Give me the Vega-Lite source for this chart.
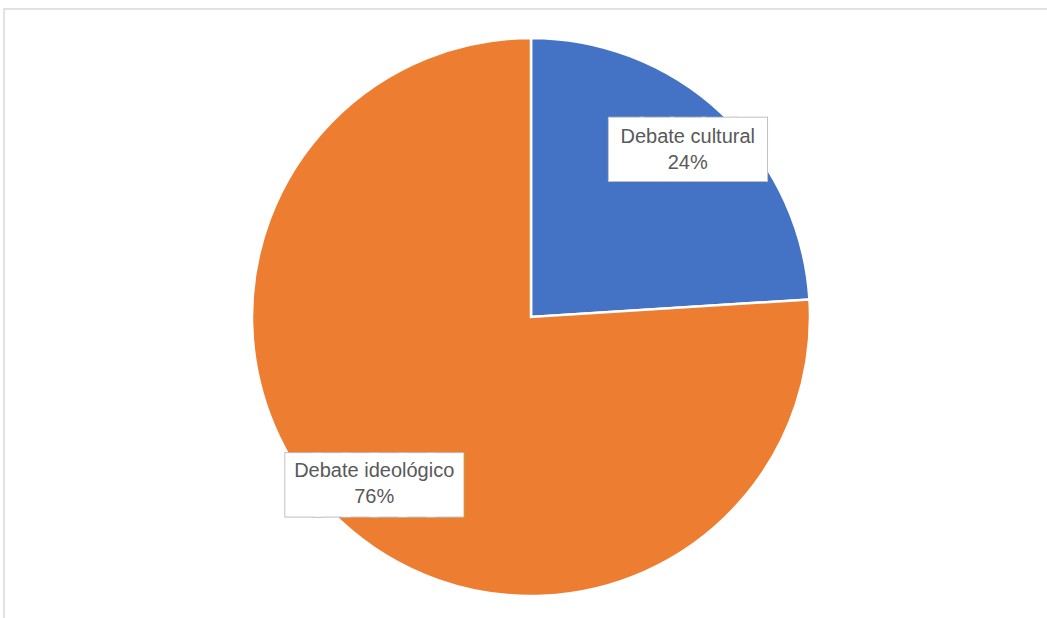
{
  "$schema": "https://vega.github.io/schema/vega-lite/v6.json",
  "width": 1054,
  "height": 616,
  "autosize": {"type": "none"},
  "padding": {"left": 4, "top": 9, "right": 0, "bottom": 0},
  "background": "white",
  "config": {"view": {"stroke": null}},
  "data": {
    "values": [
      {"categoria": "Debate cultural", "valor": 0.24},
      {"categoria": "Debate ideológico", "valor": 0.76}
    ]
  },
  "layer": [
    {
      "data": {"values": [{"marco": "borde"}]},
      "mark": {"type": "rect", "fill": "white", "fillOpacity": 0, "stroke": "#D9D9D9", "strokeWidth": 1.5},
      "encoding": {}
    },
    {
      "mark": {"type": "arc", "outerRadius": 279, "stroke": "white", "strokeWidth": 2.5},
      "encoding": {
        "theta": {"field": "valor", "type": "quantitative", "stack": true},
        "color": {
          "field": "categoria",
          "type": "nominal",
          "scale": {"domain": ["Debate cultural", "Debate ideológico"], "range": ["#4472C4", "#ED7D31"]},
          "legend": null
        }
      }
    },
    {
      "mark": {"type": "text", "radius": 229, "font": "DejaVu Sans Mono", "align": "center", "baseline": "alphabetic", "dy": 17, "fill": "#BFBFBF", "stroke": "#BFBFBF", "strokeJoin": "miter"},
      "encoding": {
        "theta": {"field": "valor", "type": "quantitative", "stack": true},
        "detail": {"field": "categoria", "type": "nominal"},
        "text": {"condition": {"test": "datum.categoria == 'Debate cultural'", "value": "█████"}, "value": "██████"},
        "size": {"condition": {"test": "datum.categoria == 'Debate cultural'", "value": 51.5}, "value": 47},
        "strokeWidth": {"condition": {"test": "datum.categoria == 'Debate cultural'", "value": 4.1}, "value": 9.3}
      }
    },
    {
      "mark": {"type": "text", "radius": 229, "font": "DejaVu Sans Mono", "align": "center", "baseline": "alphabetic", "dy": 17, "fill": "white", "stroke": "white", "strokeJoin": "miter"},
      "encoding": {
        "theta": {"field": "valor", "type": "quantitative", "stack": true},
        "detail": {"field": "categoria", "type": "nominal"},
        "text": {"condition": {"test": "datum.categoria == 'Debate cultural'", "value": "█████"}, "value": "██████"},
        "size": {"condition": {"test": "datum.categoria == 'Debate cultural'", "value": 51.5}, "value": 47},
        "strokeWidth": {"condition": {"test": "datum.categoria == 'Debate cultural'", "value": 2.1}, "value": 7.3}
      }
    },
    {
      "mark": {"type": "text", "radius": 229, "font": "Liberation Sans", "fontSize": 20, "fill": "#595959", "align": "center", "baseline": "middle", "dy": -13},
      "encoding": {
        "theta": {"field": "valor", "type": "quantitative", "stack": true},
        "detail": {"field": "categoria", "type": "nominal"},
        "text": {"field": "categoria", "type": "nominal"}
      }
    },
    {
      "mark": {"type": "text", "radius": 229, "font": "Liberation Sans", "fontSize": 20, "fill": "#595959", "align": "center", "baseline": "middle", "dy": 13},
      "encoding": {
        "theta": {"field": "valor", "type": "quantitative", "stack": true},
        "detail": {"field": "categoria", "type": "nominal"},
        "text": {"field": "valor", "type": "quantitative", "format": ".0%"}
      }
    }
  ]
}
